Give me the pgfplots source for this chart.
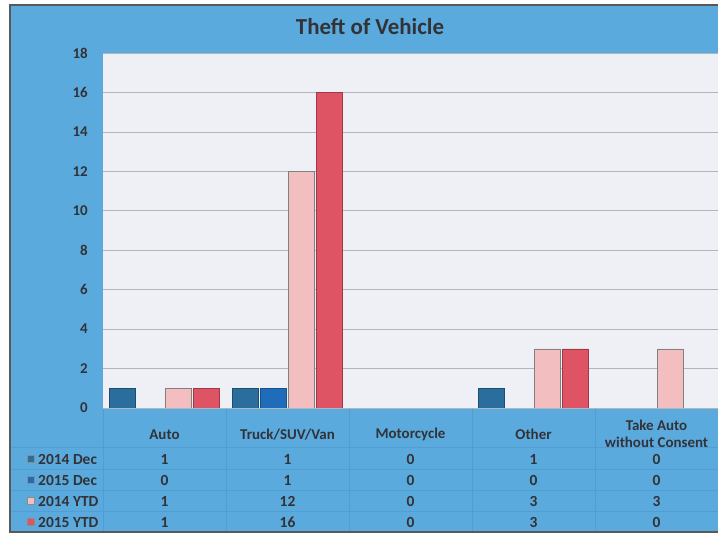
\documentclass[border=0pt]{standalone}
\usepackage{pgfplots}
\pgfplotsset{compat=1.18}
\usepackage{pgfplotstable}
\usepackage{fontspec}
\setmainfont{Carlito}
\definecolor{bgblue}{RGB}{90,170,222}
\definecolor{plotbg}{RGB}{238,240,246}
\definecolor{gridc}{RGB}{178,181,188}
\definecolor{cA}{RGB}{42,110,158}
\definecolor{cB}{RGB}{30,108,186}
\definecolor{cC}{RGB}{242,190,192}
\definecolor{cD}{RGB}{222,84,100}
\definecolor{txt}{RGB}{50,50,55}
\definecolor{tline}{RGB}{82,158,212}

\pgfplotstableread{
idx d14 d15 y14 y15
0 1 0 1 1
1 1 1 12 16
2 0 0 0 0
3 1 0 3 3
4 0 0 3 0
}\data

\begin{document}
\begin{tikzpicture}[x=1bp,y=1bp]
\useasboundingbox (0,0) rectangle (718,534);
\fill[white] (0,0) rectangle (718,534);
\fill[bgblue] (10,2) rectangle (718,529);
% table grid
\foreach \yy in {87,65,44,23} \draw[tline, line width=0.7bp] (10,\yy) -- (718,\yy);
\foreach \xx in {103,226,349,472,595} \draw[tline, line width=0.7bp] (\xx,2) -- (\xx,126);
\draw[black!65, line width=1.2bp] (718,2) -- (10,2) -- (10,529) -- (718,529);

\begin{axis}[at={(103bp,126bp)}, anchor=south west, scale only axis,
  width=615bp, height=355bp,
  xmin=-0.5, xmax=4.5, ymin=0, ymax=18,
  ytick={0,2,...,18}, xtick={0,...,4},
  xticklabels={Auto, Truck/SUV/Van, Motorcycle, Other, {Take Auto\\without Consent}},
  /pgf/number format/assume math mode=true,
  ticklabel style={font=\fontsize{15}{17}\selectfont\bfseries, text=txt},
  xticklabel style={align=center, anchor=center, inner sep=0pt, yshift=-22bp},
  yticklabel style={anchor=east, inner sep=0pt, xshift=-15bp},
  axis background/.style={fill=plotbg},
  axis line style={draw=none},
  ymajorgrids, grid style={gridc, line width=0.6bp},
  major tick style={draw=none},
  ybar=2bp, bar width=26bp,
  y filter/.expression={y==0 ? nan : y},
  ]
\addplot[fill=cA, draw=cA!70!black, line width=0.6bp] table[x=idx, y=d14] {\data};
\addplot[fill=cB, draw=cB!75!black, line width=0.6bp] table[x=idx, y=d15] {\data};
\addplot[fill=cC, draw=black!50, line width=0.6bp] table[x=idx, y=y14] {\data};
\addplot[fill=cD, draw=cD!70!black, line width=0.6bp] table[x=idx, y=y15] {\data};
\end{axis}

\node[font=\fontsize{23}{26}\selectfont\bfseries, text=txt] at (370,507) {Theft of Vehicle};

% data table
\foreach \col/\yy/\cc/\lab in {d14/75/cA/2014 Dec, d15/54/cB/2015 Dec, y14/33/cC/2014 YTD, y15/12/cD/2015 YTD}{
  \fill[\cc, draw=black!45, line width=0.5bp] (27,\yy-3.5) rectangle (34,\yy+3.5);
  \node[anchor=west, inner sep=0pt, font=\fontsize{15.5}{17}\selectfont\bfseries, text=txt] at (38,\yy) {\lab};
  \foreach \i in {0,...,4}{
    \pgfplotstablegetelem{\i}{\col}\of\data
    \node[inner sep=0pt, font=\fontsize{15.5}{17}\selectfont\bfseries, text=txt] at ({103+123*(\i+0.5)},\yy) {\pgfplotsretval};
  }
}
\end{tikzpicture}
\end{document}
